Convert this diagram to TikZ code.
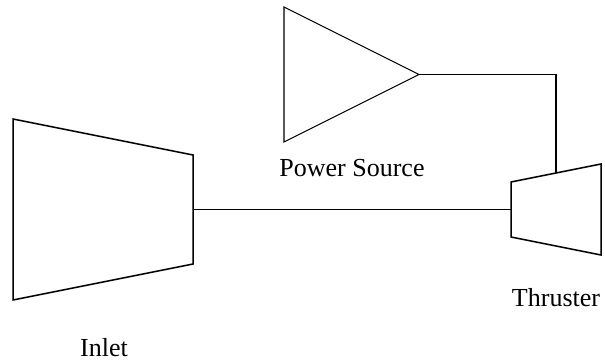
\documentclass[tikz,border=0pt]{standalone}
\usepackage{fontspec}
\setmainfont{Liberation Serif}
\usepackage{tikz}

\tikzset{
  part/.style={line width=0.75pt, line join=miter},
  link/.style={line width=0.75pt},
  partlabel/.style={anchor=base, inner sep=0pt, font=\fontsize{13}{15}\selectfont}
}

\begin{document}
\begin{tikzpicture}[x=0.5pt, y=-0.5pt]
\useasboundingbox (0,0) rectangle (605,362);

% Draw the inlet
\draw [part] (13,119) -- (193,155) -- (193,264) -- (13,300) -- cycle;
\coordinate (inletout) at (193,209.5);
\node [partlabel] (inlet) at (104,357) {Inlet};

% Draw the power source
\draw [part, line width=0.55pt] (284,7) -- (419,74.5) -- (284,142) -- cycle;
\coordinate (sourceout) at (419,74.5);
\node [partlabel] (source) at (352,177) {Power Source};

% Draw the thruster
\draw [part] (511,182) -- (601,164) -- (601,255) -- (511,237) -- cycle;
\coordinate (thrusterin) at (511,209.5);
\coordinate (thrustertop) at (556,173);
\node [partlabel] (thruster) at (556,307) {Thruster};

% Connections
\draw [link] (inletout) -- (thrusterin);
\draw [link] (sourceout) -| (thrustertop);

\end{tikzpicture}
\end{document}
